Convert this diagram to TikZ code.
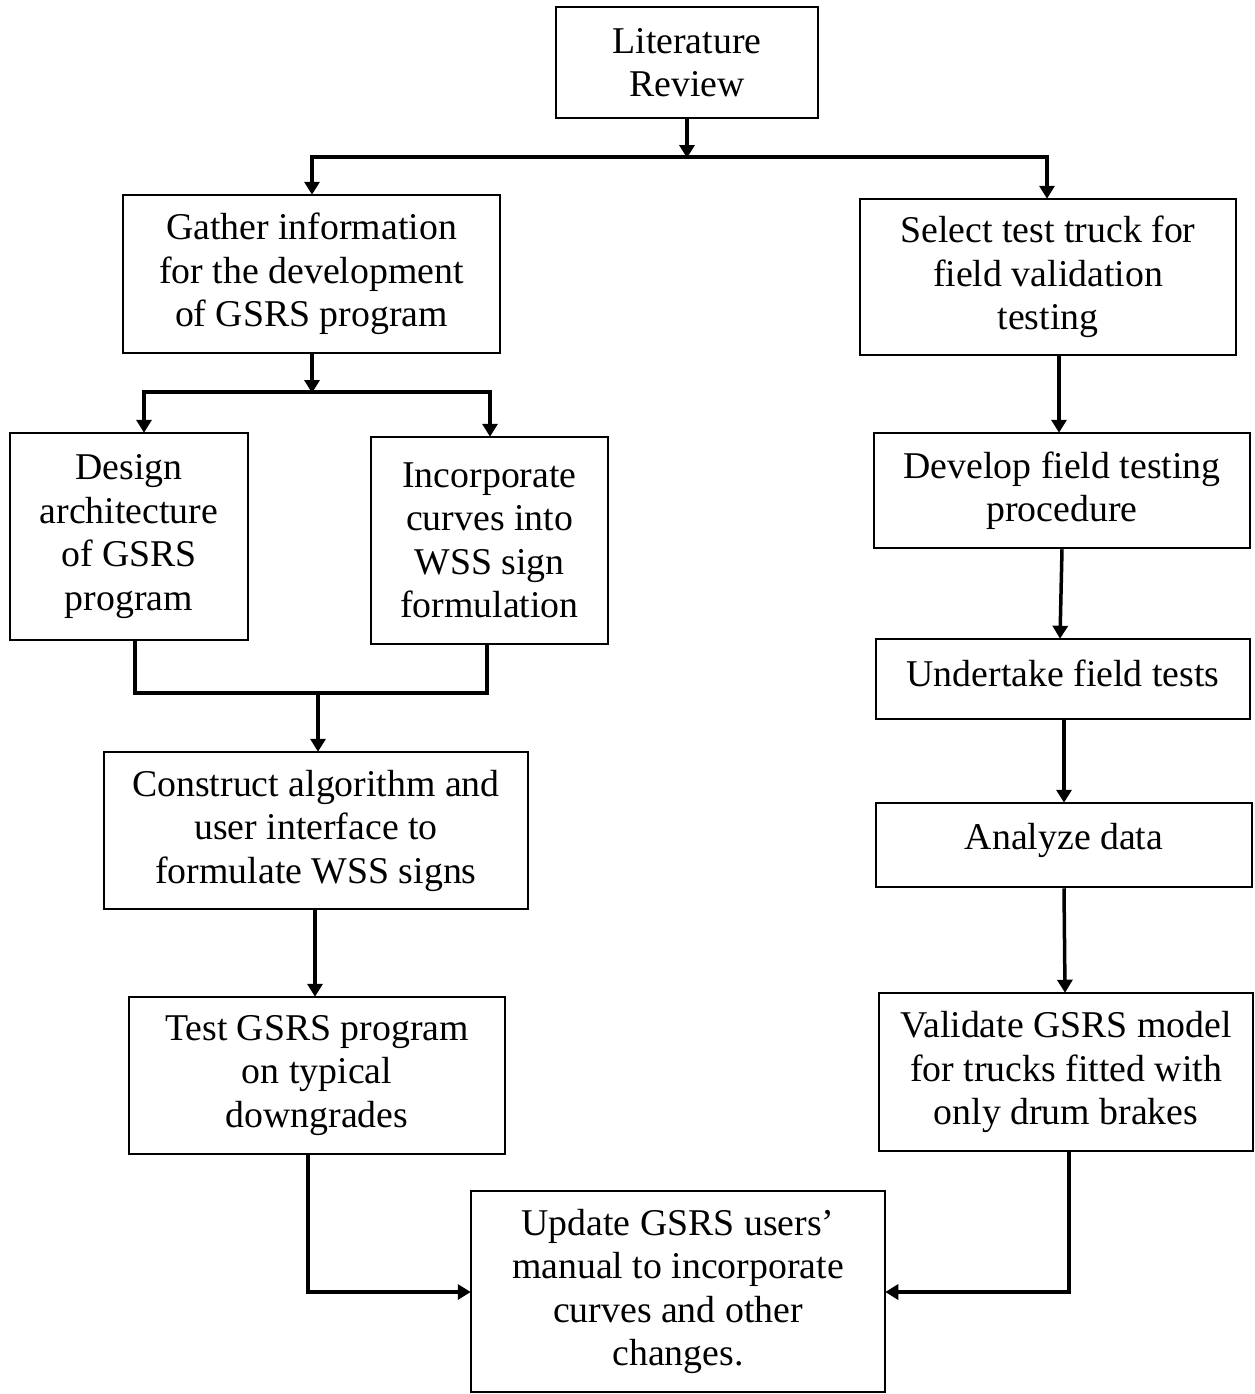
\documentclass[tikz,border=0pt]{standalone}
\usepackage{fontspec}
\setmainfont{Liberation Serif}
\usetikzlibrary{arrows.meta}
\begin{document}
\begin{tikzpicture}[x=1pt,y=-1pt,
  box/.style={draw, line width=2.5pt, align=center, inner sep=0pt,
    font=\fontsize{37.8}{43.5}\selectfont},
  conn/.style={line width=3.5pt},
  arr/.style={line width=3.5pt, -{Triangle[width=15pt,length=13pt]}, shorten >=-1pt}]
\useasboundingbox (0,0) rectangle (1254,1394);
% boxes
\node[box, minimum width=262pt, minimum height=111pt] (lit) at (687,62.5) {Literature\\Review};
\node[box, minimum width=377pt, minimum height=158pt] (gather) at (311.5,274) {Gather information\\for the development\\of GSRS program};
\node[box, minimum width=376pt, minimum height=156pt] (select) at (1048,277) {Select test truck for\\field validation\\testing};
\node[box, minimum width=238pt, minimum height=207pt] (design) at (129,536.5) {Design\\architecture\\of GSRS\\program};
\node[box, minimum width=237pt, minimum height=207pt] (incorp) at (489.5,540.5) {Incorporate\\curves into\\WSS sign\\formulation};
\node[box, minimum width=424pt, minimum height=157pt] (construct) at (316,830.5) {Construct algorithm and\\user interface to\\formulate WSS signs};
\node[box, minimum width=376pt, minimum height=157pt] (test) at (317,1075.5) {Test GSRS program\\on typical\\downgrades};
\node[box, minimum width=376pt, minimum height=115pt] (develop) at (1062,490.5) {Develop field testing\\procedure};
\node[box, minimum width=374pt, minimum height=80pt] (undertake) at (1063,679) {\raisebox{6pt}[\height][\depth]{Undertake field tests}};
\node[box, minimum width=376pt, minimum height=84pt] (analyze) at (1064,845) {\raisebox{5pt}[\height][\depth]{Analyze data}};
\node[box, minimum width=374pt, minimum height=158pt] (validate) at (1066,1072) {Validate GSRS model\\for trucks fitted with\\only drum brakes};
\node[box, minimum width=414pt, minimum height=201pt] (update) at (678,1291.5) {Update GSRS users’\\manual to incorporate\\curves and other\\changes.};
% junction coordinates
\coordinate (j1) at (687,157);
\coordinate (j1l) at (312,157);
\coordinate (j1r) at (1047,157);
\coordinate (j2) at (312,392);
\coordinate (j2l) at (144,392);
\coordinate (j2r) at (490,392);
\coordinate (j3l) at (135,693);
\coordinate (j3r) at (487,693);
\coordinate (j3) at (318,693);
\coordinate (j4) at (308,1292);
\coordinate (j5) at (1069,1292);
% connectors
\draw[arr] (lit.south) -- (j1);
\draw[conn] ([xshift=-1.75pt]j1l) -- ([xshift=1.75pt]j1r);
\draw[arr] (j1l) -- (gather.north -| j1l);
\draw[arr] (j1r) -- (select.north -| j1r);
\draw[arr] (gather.south -| j2) -- (j2);
\draw[conn] ([xshift=-1.75pt]j2l) -- ([xshift=1.75pt]j2r);
\draw[arr] (j2l) -- (design.north -| j2l);
\draw[arr] (j2r) -- (incorp.north -| j2r);
\draw[conn] (design.south -| j3l) -- (j3l) -- (j3r) -- (incorp.south -| j3r);
\draw[arr] (j3) -- (construct.north -| j3);
\draw[arr] (construct.south -| 315,0) -- (test.north -| 315,0);
\draw[arr] (test.south -| j4) -- (j4) -- (update.west |- j4);
\draw[arr] (validate.south -| j5) -- (j5) -- (update.east |- j5);
\draw[arr] (select.south -| 1059,0) -- (develop.north -| 1059,0);
\draw[arr] (develop.south -| 1062,0) -- (undertake.north -| 1060,0);
\draw[arr] (undertake.south -| 1064,0) -- (analyze.north -| 1064,0);
\draw[arr] (analyze.south -| 1064,0) -- (validate.north -| 1065,0);
\end{tikzpicture}
\end{document}
